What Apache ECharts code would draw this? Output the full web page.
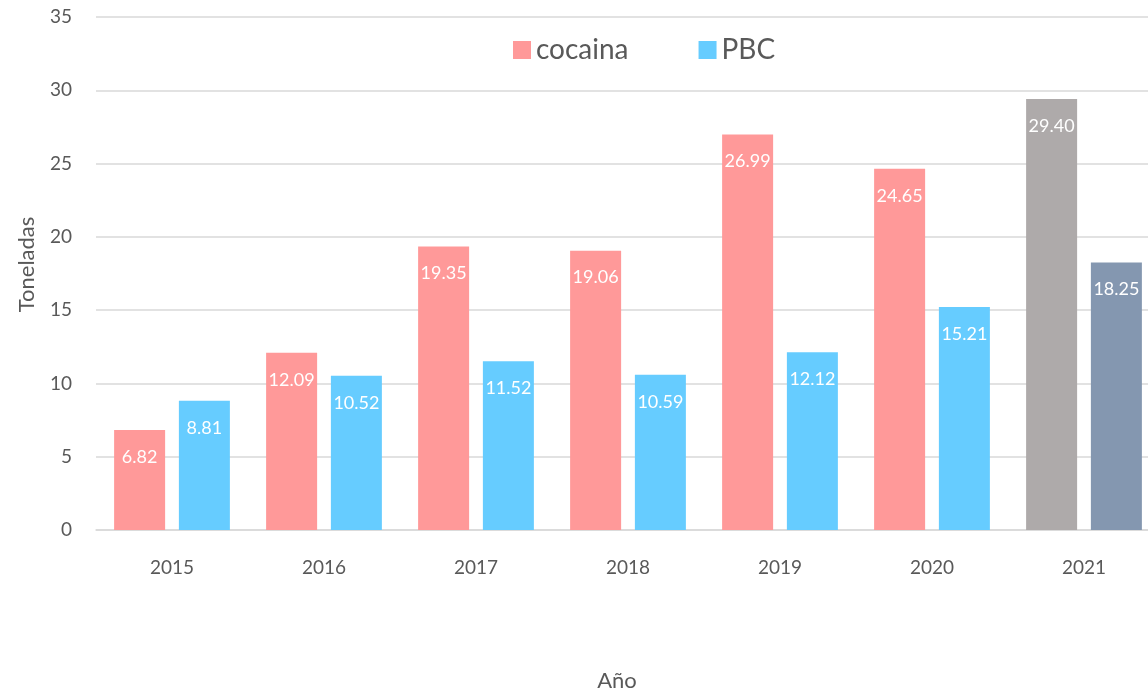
<!DOCTYPE html>
<html><head><meta charset="utf-8">
<script src="https://cdn.jsdelivr.net/npm/echarts@6/dist/echarts.min.js"></script>
<style>html,body{margin:0;padding:0;background:#fff}#c{width:1148px;height:692px}</style>
</head><body><div id="c"></div>
<script>
const years = ['2015','2016','2017','2018','2019','2020','2021'];
const cocaina = [6.82, 12.09, 19.35, 19.06, 26.99, 24.65, 29.40];
const pbc = [8.81, 10.52, 11.52, 10.59, 12.12, 15.21, 18.25];
const yTicks = [0, 5, 10, 15, 20, 25, 30, 35];

const FONT = 'Lato';
const lbl = {show: true, position: 'insideTop', distance: 18, color: '#fff', fontSize: 18, fontFamily: FONT, formatter: p => p.value.toFixed(2)};
const chart = echarts.init(document.getElementById('c'));
chart.setOption({
  animation: false,
  textStyle: {fontFamily: FONT},
  legend: {top: 31, left: 508, itemWidth: 18, itemHeight: 18, itemGap: 70,
    textStyle: {fontSize: 28, color: '#595959', fontFamily: FONT},
    data: [{name: 'cocaina', icon: 'rect'}, {name: 'PBC', icon: 'rect'}]},
  grid: {left: 96, right: -12, top: 17, bottom: 162, containLabel: false, outerBoundsMode: 'none'},
  xAxis: {type: 'category', data: years,
    axisLine: {lineStyle: {color: '#d9d9d9', width: 1.5}}, axisTick: {show: false},
    axisLabel: {fontSize: 19, color: '#595959', margin: 28, fontFamily: FONT},
    name: 'Año', nameLocation: 'middle', nameGap: 140,
    nameTextStyle: {fontSize: 22, color: '#595959', fontFamily: FONT, padding: [0, 22, 0, 0]}},
  yAxis: {type: 'value', min: 0, max: 35, interval: 5,
    axisLine: {show: false}, axisTick: {show: false},
    splitLine: {lineStyle: {color: '#d9d9d9', width: 1.5}},
    axisLabel: {fontSize: 19, color: '#595959', margin: 24, fontFamily: FONT},
    name: 'Toneladas', nameLocation: 'middle', nameGap: 58,
    nameTextStyle: {fontSize: 22, color: '#595959', fontFamily: FONT, padding: [0, 0, 0, 18]}},
  series: [
    {name: 'cocaina', type: 'bar', barWidth: 51, barGap: '27%',
      itemStyle: {color: '#FF9999'},
      data: cocaina.map((v, i) => i === 6 ? {value: v, itemStyle: {color: '#AEAAAA'}} : v),
      label: lbl},
    {name: 'PBC', type: 'bar', barWidth: 51,
      itemStyle: {color: '#66CCFF'},
      data: pbc.map((v, i) => i === 6 ? {value: v, itemStyle: {color: '#8497B0'}} : v),
      label: lbl}
  ]
});
</script></body></html>
